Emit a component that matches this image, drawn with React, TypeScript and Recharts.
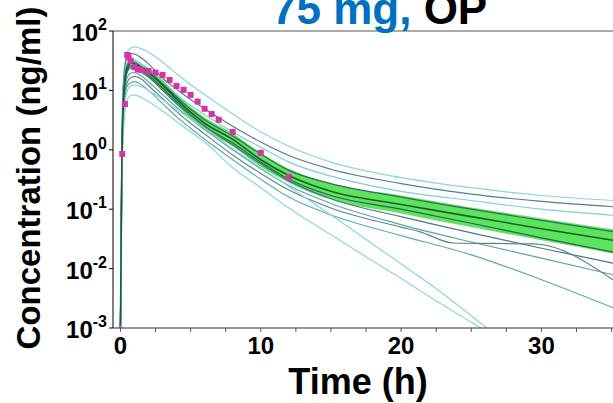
import React from 'react';
import { ComposedChart, Line, Area, Scatter, XAxis, YAxis, ReferenceLine } from 'recharts';

// shared time grid (h)
const TIMES = [0, 0.1, 0.25, 0.5, 0.75, 1, 1.5, 2, 3, 4, 5, 6, 8, 10, 12, 15, 20, 25, 30, 35.1];

// simulated median and 90% band (ng/ml)
const MEDIAN = [0.001, 0.6, 9, 24, 29, 28, 24, 20, 12.3, 7.2, 4.3, 2.8, 1.5, 0.68, 0.37, 0.2, 0.12, 0.075, 0.047, 0.03];
const BAND_LOW = [0.001, 0.42, 6.5, 19, 23.5, 23, 19.5, 16, 9.8, 5.7, 3.35, 2.15, 1.15, 0.52, 0.28, 0.145, 0.085, 0.05, 0.03, 0.018];
const BAND_HIGH = [0.001, 0.85, 12, 29, 34, 33, 28.5, 24, 15, 8.8, 5.3, 3.5, 1.9, 0.88, 0.48, 0.27, 0.17, 0.107, 0.07, 0.046];

// individual profiles on the shared grid
const IND_1 = [0.001, 1.5, 20, 45, 52, 54, 50, 44, 30, 19, 12.5, 8.5, 4.0, 2.0, 1.15, 0.62, 0.34, 0.23, 0.17, 0.14];
const IND_2 = [0.001, 1.2, 18, 38, 42, 41, 35, 28, 16, 10.5, 7, 4.9, 2.5, 1.35, 0.8, 0.47, 0.27, 0.18, 0.135, 0.11];
const IND_3 = [0.001, 1.0, 14, 30, 33, 32, 27, 22, 13, 8.5, 5.6, 3.9, 2.0, 1.1, 0.62, 0.36, 0.2, 0.14, 0.1, 0.079];
const IND_4 = [0.001, 0.8, 12, 27, 30, 29.5, 25, 21, 13, 7.8, 4.8, 3.2, 1.7, 0.85, 0.45, 0.27, 0.16, 0.1, 0.065, 0.042];
const IND_5 = [0.001, 0.5, 9, 21, 24, 24, 20.5, 17, 10, 6, 3.8, 2.5, 1.2, 0.58, 0.3, 0.15, 0.075, 0.04, 0.022, 0.0124];
const IND_6 = [0.001, 0.4, 7, 17, 19.5, 20, 17.5, 14, 8.5, 5.2, 3.3, 2.2, 1.0, 0.48, 0.25, 0.125, 0.055, 0.028, 0.015, 0.0079];
const IND_8 = [0.001, 0.3, 5, 12, 13.5, 14, 12.5, 10, 6, 3.6, 2.3, 1.5, 0.68, 0.32, 0.16, 0.08, 0.036, 0.017, 0.0065, 0.0022];
const IND_11 = [0.001, 0.6, 10, 23, 26, 25.5, 22, 18, 11, 6.5, 3.9, 2.5, 1.3, 0.62, 0.32, 0.17, 0.1, 0.058, 0.033, 0.019];

// profiles with their own time grids
const TIMES_7 = [0, 0.1, 0.25, 0.5, 0.75, 1, 1.5, 2, 3, 4, 5, 6, 8, 10, 12, 15, 20, 21.3, 23.7, 29.5, 35.1];
const IND_7 = [0.001, 0.25, 5, 14, 16.5, 17, 15.5, 12, 7.3, 4.4, 2.8, 1.85, 0.82, 0.4, 0.21, 0.105, 0.05, 0.042, 0.027, 0.026, 0.0065];
const TIMES_9 = [0, 0.1, 0.25, 0.5, 0.75, 1, 1.5, 2, 3, 4, 5, 6, 8, 10, 12, 15, 20, 22, 26.1];
const IND_9 = [0.001, 0.3, 4, 10, 12, 12.3, 11.5, 10, 7, 4.8, 3.3, 2.3, 1.05, 0.5, 0.24, 0.08, 0.012, 0.0056, 0.001];
const TIMES_10 = [0, 0.1, 0.25, 0.5, 0.75, 1, 1.5, 2, 3, 4, 5, 6, 8, 10, 12, 15, 20, 22, 25.7];
const IND_10 = [0.001, 0.2, 2.8, 7, 8.2, 8.3, 7.6, 6.5, 4.5, 3.0, 2.0, 1.35, 0.5, 0.23, 0.105, 0.037, 0.0068, 0.0034, 0.001];

// observed data
const OBS_T = [0.13, 0.32, 0.48, 0.58, 0.73, 1, 1.25, 1.5, 2, 2.5, 3, 3.5, 4, 4.5, 5, 5.5, 6, 6.5, 7, 8, 10, 12];
const OBS_C = [0.85, 5.9, 39.5, 36, 31.6, 24.5, 22.6, 22, 21.2, 19.9, 18.2, 15, 11.9, 10.2, 8.4, 6.5, 4.9, 4.0, 3.2, 2.0, 0.89, 0.35];
const OBS_ZERO_T = [0];
const OBS_ZERO_C = [0.001];

const X_TICKS = [0, 2.5, 5, 7.5, 10, 12.5, 15, 17.5, 20, 22.5, 25, 27.5, 30, 32.5, 35];
const X_LABELED = [0, 10, 20, 30];
const Y_TICKS = [0.001, 0.01, 0.1, 1, 10, 100];

const FONT = '"Liberation Sans", Arial, sans-serif';

const zip = (ts: number[], vs: number[]) => ts.map((t, i) => ({ t, v: vs[i] }));

const bandData = TIMES.map((t, i) => ({ t, band: [BAND_LOW[i], BAND_HIGH[i]], med: MEDIAN[i] }));

const individuals: { data: { t: number; v: number }[]; color: string }[] = [
  { data: zip(TIMES, IND_1), color: '#86d8da' },
  { data: zip(TIMES, IND_2), color: '#4f7f8c' },
  { data: zip(TIMES, IND_3), color: '#7dd0d4' },
  { data: zip(TIMES, IND_4), color: '#2f6a66' },
  { data: zip(TIMES, IND_11), color: '#2d5f5a' },
  { data: zip(TIMES, IND_5), color: '#4e7585' },
  { data: zip(TIMES, IND_6), color: '#5aa6a8' },
  { data: zip(TIMES_7, IND_7), color: '#5d8590' },
  { data: zip(TIMES, IND_8), color: '#5aaeb0' },
  { data: zip(TIMES_9, IND_9), color: '#88d6d8' },
  { data: zip(TIMES_10, IND_10), color: '#8ad8da' },
];

const obsData = zip(OBS_T, OBS_C);
const obsZero = zip(OBS_ZERO_T, OBS_ZERO_C);

const XTick = (props: any) => {
  const { x, y, payload } = props;
  if (!X_LABELED.includes(payload.value)) return <g />;
  return (
    <text x={x} y={y + 20} textAnchor="middle" fontFamily={FONT} fontWeight="bold" fontSize={24} fill="#000">
      {payload.value}
    </text>
  );
};

const YTick = (props: any) => {
  const { x, y, payload } = props;
  const e = Math.round(Math.log10(payload.value));
  return (
    <text x={x} y={y + 10} textAnchor="end" fontFamily={FONT} fontWeight="bold" fontSize={24} fill="#000">
      <tspan>10</tspan>
      <tspan dy={-11} fontSize={16}>{String(e)}</tspan>
    </text>
  );
};

const Square = (props: any) => {
  const { cx, cy } = props;
  if (cx == null || cy == null) return <g />;
  return <rect x={cx - 3} y={cy - 3} width={6} height={6} fill="#d633aa" />;
};

const Plus = (props: any) => {
  const { cx, cy } = props;
  if (cx == null || cy == null) return <g />;
  return (
    <g stroke="#a050c0" strokeWidth={1.5}>
      <line x1={cx - 3} x2={cx + 3} y1={cy} y2={cy} />
      <line x1={cx} x2={cx} y1={cy - 3} y2={cy + 3} />
    </g>
  );
};

export default function App() {
  return (
    <div style={{ position: 'absolute', left: 0, top: 0, width: 613, height: 403, background: '#fff', overflow: 'hidden' }}>
      <ComposedChart
        width={613}
        height={403}
        data={bandData}
        margin={{ top: 31, right: 0, bottom: 0, left: 0 }}
      >
        <XAxis
          dataKey="t"
          type="number"
          domain={[-0.53, 35.1]}
          allowDataOverflow
          ticks={X_TICKS}
          interval={0}
          tick={<XTick />}
          tickSize={4}
          tickMargin={2}
          height={75}
          stroke="#333"
          tickLine={{ stroke: '#555' }}
        />
        <YAxis
          type="number"
          scale="log"
          domain={[0.001, 100]}
          allowDataOverflow
          ticks={Y_TICKS}
          interval={0}
          tick={<YTick />}
          tickSize={4}
          tickMargin={2}
          width={113}
          stroke="#000"
        />
        <ReferenceLine y={100} stroke="#555" strokeWidth={1} />
        <Area
          dataKey="band"
          type="monotone"
          stroke="none"
          fill="#3fe03f"
          fillOpacity={0.85}
          isAnimationActive={false}
        />
        {individuals.map((s, i) => (
          <Line
            key={i}
            data={s.data}
            dataKey="v"
            type="monotone"
            stroke={s.color}
            strokeWidth={1.2}
            dot={false}
            activeDot={false}
            isAnimationActive={false}
          />
        ))}
        <Line
          dataKey="med"
          type="monotone"
          stroke="#1c5e2c"
          strokeWidth={1.6}
          dot={false}
          activeDot={false}
          isAnimationActive={false}
        />
        <Scatter data={obsData} dataKey="v" shape={<Square />} isAnimationActive={false} />
        <Scatter data={obsZero} dataKey="v" shape={<Plus />} isAnimationActive={false} />
      </ComposedChart>
      <svg width={613} height={403} style={{ position: 'absolute', left: 0, top: 0, pointerEvents: 'none' }}>
        <text x={272} y={24} fontFamily={FONT} fontWeight="bold" fontSize={44}>
          <tspan fill="#0070c0">75 mg, </tspan>
          <tspan fill="#000">OP</tspan>
        </text>
        <text
          transform="translate(40,178) rotate(-90)"
          textAnchor="middle"
          fontFamily={FONT}
          fontWeight="bold"
          fontSize={33}
          fill="#000"
        >
          Concentration (ng/ml)
        </text>
        <text x={358} y={394} textAnchor="middle" fontFamily={FONT} fontWeight="bold" fontSize={36} fill="#000">
          Time (h)
        </text>
      </svg>
    </div>
  );
}
